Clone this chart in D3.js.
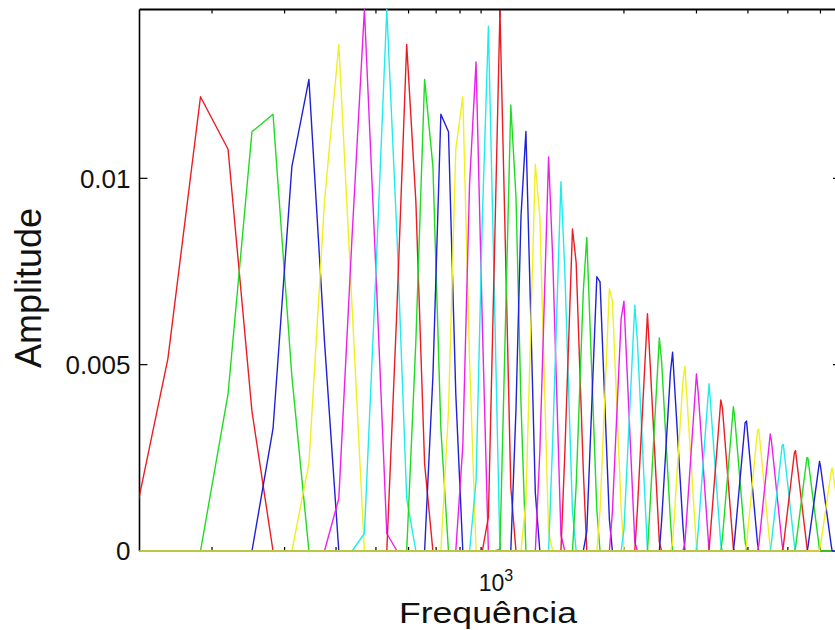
<!DOCTYPE html>
<html>
<head>
<meta charset="utf-8">
<script src="https://cdn.jsdelivr.net/npm/d3@7"></script>
<style>
  html, body { margin: 0; padding: 0; background: #fff; }
  svg { display: block; }
</style>
</head>
<body>
<svg id="chart"></svg>
<script>
// FFT bin frequencies (Hz) of the vertices of each triangular filter
const filterFreqs = [
  [125, 156.25, 187.5, 218.75, 250, 281.25],
  [187.5, 218.75, 250, 281.25, 312.5, 343.75],
  [250, 281.25, 312.5, 343.75, 375, 406.25],
  [312.5, 343.75, 375, 406.25, 437.5, 468.75],
  [375, 406.25, 437.5, 468.75, 500, 531.25, 562.5],
  [437.5, 468.75, 500, 531.25, 562.5, 593.75, 625],
  [531.25, 562.5, 593.75, 625, 656.25, 687.5],
  [593.75, 625, 656.25, 687.5, 718.75, 750],
  [656.25, 687.5, 718.75, 750, 781.25, 812.5],
  [718.75, 750, 781.25, 812.5, 843.75, 875],
  [781.25, 812.5, 843.75, 875, 906.25, 937.5],
  [843.75, 875, 906.25, 937.5, 968.75, 1000],
  [906.25, 937.5, 968.75, 1000, 1031.25, 1062.5, 1093.75],
  [968.75, 1000, 1062.5, 1093.75, 1125, 1156.25],
  [1062.5, 1093.75, 1125, 1156.25, 1218.75, 1250],
  [1125, 1156.25, 1218.75, 1250, 1312.5, 1343.75],
  [1218.75, 1250, 1312.5, 1343.75, 1406.25, 1437.5],
  [1312.5, 1343.75, 1406.25, 1437.5, 1500, 1531.25],
  [1406.25, 1437.5, 1500, 1531.25, 1593.75, 1625],
  [1500, 1531.25, 1593.75, 1625, 1718.75, 1750],
  [1593.75, 1625, 1718.75, 1750, 1843.75, 1875],
  [1718.75, 1750, 1843.75, 1875, 1968.75, 2000],
  [1843.75, 1875, 1968.75, 2000, 2125, 2156.25],
  [1968.75, 2000, 2125, 2156.25, 2281.25, 2312.5],
  [2125, 2156.25, 2281.25, 2312.5, 2437.5, 2468.75],
  [2281.25, 2312.5, 2437.5, 2468.75, 2593.75, 2625],
  [2437.5, 2468.75, 2593.75, 2625, 2781.25, 2812.5],
  [2593.75, 2625, 2781.25, 2812.5, 3000, 3031.25],
  [2781.25, 2812.5, 3000, 3031.25, 3187.5, 3218.75],
  [3000, 3031.25, 3187.5, 3218.75, 3437.5, 3468.75],
  [3187.5, 3218.75, 3437.5, 3468.75, 3687.5, 3718.75],
  [3437.5, 3468.75, 3687.5, 3718.75, 3937.5, 3968.75],
  [3687.5, 3718.75, 3937.5, 3968.75, 4218.75, 4250],
  [3937.5, 3968.75, 4218.75, 4250, 4531.25, 4562.5],
  [4218.75, 4250, 4531.25, 4562.5, 4843.75, 4875],
  [4531.25, 4562.5, 4843.75, 4875, 5187.5, 5218.75],
  [4843.75, 4875, 5187.5, 5218.75, 5562.5, 5593.75],
  [5187.5, 5218.75, 5562.5, 5593.75, 5968.75, 6000],
  [5562.5, 5593.75, 5968.75, 6000, 6375, 6406.25],
  [5968.75, 6000, 6375, 6406.25, 6843.75, 6875]
];

// amplitude at each of those vertices
const filterAmps = [
  [0, 0.005156, 0.012188, 0.010781, 0.00375, 0],
  [0, 0.004219, 0.01125, 0.011719, 0.004688, 0],
  [0, 0.003281, 0.010313, 0.012656, 0.005625, 0],
  [0, 0.002344, 0.009375, 0.013594, 0.006563, 0],
  [0, 0.001406, 0.008438, 0.014531, 0.0075, 0.000469, 0],
  [0, 0.000469, 0.0075, 0.014531, 0.008438, 0.001406, 0],
  [0, 0.006563, 0.013594, 0.009375, 0.002344, 0],
  [0, 0.005625, 0.012656, 0.010313, 0.003281, 0],
  [0, 0.004688, 0.011719, 0.01125, 0.004219, 0],
  [0, 0.00375, 0.010781, 0.012188, 0.005156, 0],
  [0, 0.002813, 0.009844, 0.013125, 0.006094, 0],
  [0, 0.001878, 0.008922, 0.014083, 0.007015, 0],
  [0, 0.000912, 0.007751, 0.014488, 0.008103, 0.001718, 0],
  [0, 0.000046, 0.011967, 0.009505, 0.00394, 0],
  [0, 0.003796, 0.008991, 0.011255, 0.001555, 0],
  [0, 0.001321, 0.010376, 0.008957, 0.000503, 0],
  [0, 0.002681, 0.010572, 0.007797, 0.00043, 0],
  [0, 0.003029, 0.009907, 0.007473, 0.001052, 0],
  [0, 0.002647, 0.008641, 0.007742, 0.002146, 0],
  [0, 0.001756, 0.00698, 0.008416, 0.001101, 0],
  [0, 0.00053, 0.007359, 0.007221, 0.000846, 0],
  [0, 0.001088, 0.00704, 0.006715, 0.001158, 0],
  [0, 0.001041, 0.006229, 0.006705, 0.000248, 0],
  [0, 0.000565, 0.006593, 0.005633, 0.000006, 0],
  [0, 0.001112, 0.006366, 0.00515, 0.000245, 0],
  [0, 0.00114, 0.005718, 0.005092, 0.000818, 0],
  [0, 0.000798, 0.004789, 0.005333, 0.000677, 0],
  [0, 0.000204, 0.004551, 0.004961, 0.000092, 0],
  [0, 0.000207, 0.004754, 0.004211, 0.000674, 0],
  [0, 0.000586, 0.003888, 0.004488, 0.000173, 0],
  [0, 0.000027, 0.004056, 0.00383, 0.000069, 0],
  [0, 0.000361, 0.003872, 0.003529, 0.000251, 0],
  [0, 0.000381, 0.003441, 0.003486, 0.000221, 0],
  [0, 0.000177, 0.003225, 0.003268, 0.000067, 0],
  [0, 0.000152, 0.00314, 0.002951, 0.000162, 0],
  [0, 0.000235, 0.002839, 0.002861, 0.000159, 0],
  [0, 0.000121, 0.002643, 0.002695, 0.000105, 0],
  [0, 0.00009, 0.002508, 0.002492, 0.00003, 0],
  [0, 0.000106, 0.002405, 0.00228, 0.000134, 0],
  [0, 0.000143, 0.002146, 0.002232, 0.00005, 0]
];

const lineColors = ['#ec1c24', '#1fdc1f', '#2020d8', '#f0f020', '#ec20ec', '#20ecec'];
const xLimits = [133.33, 6730];
const yLimits = [0, 0.01453];
const yTicks = [0, 0.005, 0.01];
const yTickLabels = ['0', '0.005', '0.01'];
const xMajorTicks = [1000];
const xMajorLabels = [['10', '3']];
const xMinorTicks = [200, 300, 400, 500, 600, 700, 800, 900, 2000, 3000, 4000, 5000, 6000];

const width = 835;
const height = 630;
const plot = { left: 139.5, right: 841, top: 9.5, bottom: 551 };

const svg = d3.select('#chart').attr('width', width).attr('height', height);
svg.append('rect').attr('width', width).attr('height', height).attr('fill', '#fff');

const x = d3.scaleLog().domain(xLimits).range([plot.left, plot.right]);
const y = d3.scaleLinear().domain(yLimits).range([plot.bottom, plot.top]);

svg.append('clipPath').attr('id', 'plot-clip')
  .append('rect')
  .attr('x', plot.left).attr('y', plot.top - 1)
  .attr('width', plot.right - plot.left).attr('height', plot.bottom - plot.top + 2);

// axis box, drawn under the data like MATLAB does
const box = svg.append('g').attr('stroke', '#000').attr('fill', 'none');
box.append('line').attr('x1', plot.left).attr('x2', plot.left).attr('y1', plot.top).attr('y2', plot.bottom).attr('stroke-width', 1.6);
box.append('line').attr('x1', plot.left).attr('x2', plot.right).attr('y1', plot.top).attr('y2', plot.top).attr('stroke-width', 1.8);
box.append('line').attr('x1', plot.right).attr('x2', plot.right).attr('y1', plot.top).attr('y2', plot.bottom).attr('stroke-width', 1.6);
box.append('line').attr('x1', plot.left).attr('x2', plot.right).attr('y1', plot.bottom).attr('y2', plot.bottom).attr('stroke-width', 1.5);

const ticks = svg.append('g').attr('stroke', '#000').attr('stroke-width', 1.2);
ticks.selectAll('.ty')
  .data(yTicks)
  .join('g')
  .call(g => g.append('line').attr('x1', plot.left).attr('x2', plot.left + 8).attr('y1', d => y(d)).attr('y2', d => y(d)))
  .call(g => g.append('line').attr('x1', plot.right).attr('x2', plot.right - 8).attr('y1', d => y(d)).attr('y2', d => y(d)));
ticks.selectAll('.tmaj')
  .data(xMajorTicks)
  .join('g')
  .call(g => g.append('line').attr('x1', d => x(d)).attr('x2', d => x(d)).attr('y1', plot.top).attr('y2', plot.top + 8))
  .call(g => g.append('line').attr('x1', d => x(d)).attr('x2', d => x(d)).attr('y1', plot.bottom).attr('y2', plot.bottom - 8));
ticks.selectAll('.tmin')
  .data(xMinorTicks)
  .join('g')
  .call(g => g.append('line').attr('x1', d => x(d)).attr('x2', d => x(d)).attr('y1', plot.top).attr('y2', plot.top + 4))
  .call(g => g.append('line').attr('x1', d => x(d)).attr('x2', d => x(d)).attr('y1', plot.bottom).attr('y2', plot.bottom - 4));

// every filter is plotted over the whole frequency axis, zero outside its triangle
const line = d3.line().x(d => x(d[0])).y(d => y(d[1]));
const series = filterFreqs.map((freqs, i) =>
  [[xLimits[0] * 0.9, 0], ...freqs.map((f, j) => [f, filterAmps[i][j]]), [xLimits[1] * 1.1, 0]]);

svg.append('g')
  .attr('clip-path', 'url(#plot-clip)')
  .attr('fill', 'none')
  .attr('stroke-width', 1.4)
  .attr('stroke-linejoin', 'round')
  .selectAll('path')
  .data(series)
  .join('path')
  .attr('stroke', (d, i) => lineColors[i % lineColors.length])
  .attr('d', line);

// tick labels
svg.append('g')
  .attr('font-family', 'Liberation Sans, Arial, sans-serif')
  .attr('font-size', 26)
  .attr('fill', '#111')
  .attr('text-anchor', 'end')
  .selectAll('text')
  .data(yTicks)
  .join('text')
  .attr('x', plot.left - 9)
  .attr('y', d => y(d))
  .attr('dy', '0.36em')
  .text((d, i) => yTickLabels[i]);

const xLab = svg.append('g')
  .attr('font-family', 'Liberation Sans, Arial, sans-serif')
  .attr('fill', '#111');
xMajorTicks.forEach((t, i) => {
  const tx = xLab.append('text')
    .attr('x', x(t) - 4)
    .attr('y', 591)
    .attr('text-anchor', 'middle')
    .attr('font-size', 23);
  tx.append('tspan').text(xMajorLabels[i][0]);
  tx.append('tspan').attr('font-size', 16).attr('dy', -10).text(xMajorLabels[i][1]);
});

xLab.append('text')
  .attr('x', 488)
  .attr('y', 623)
  .attr('text-anchor', 'middle')
  .attr('font-size', 29)
  .attr('textLength', 178)
  .attr('lengthAdjust', 'spacingAndGlyphs')
  .text('Frequência');

svg.append('text')
  .attr('font-family', 'Liberation Sans, Arial, sans-serif')
  .attr('font-size', 36)
  .attr('fill', '#111')
  .attr('text-anchor', 'middle')
  .attr('transform', 'translate(41,288) rotate(-90)')
  .text('Amplitude');
</script>
</body>
</html>
